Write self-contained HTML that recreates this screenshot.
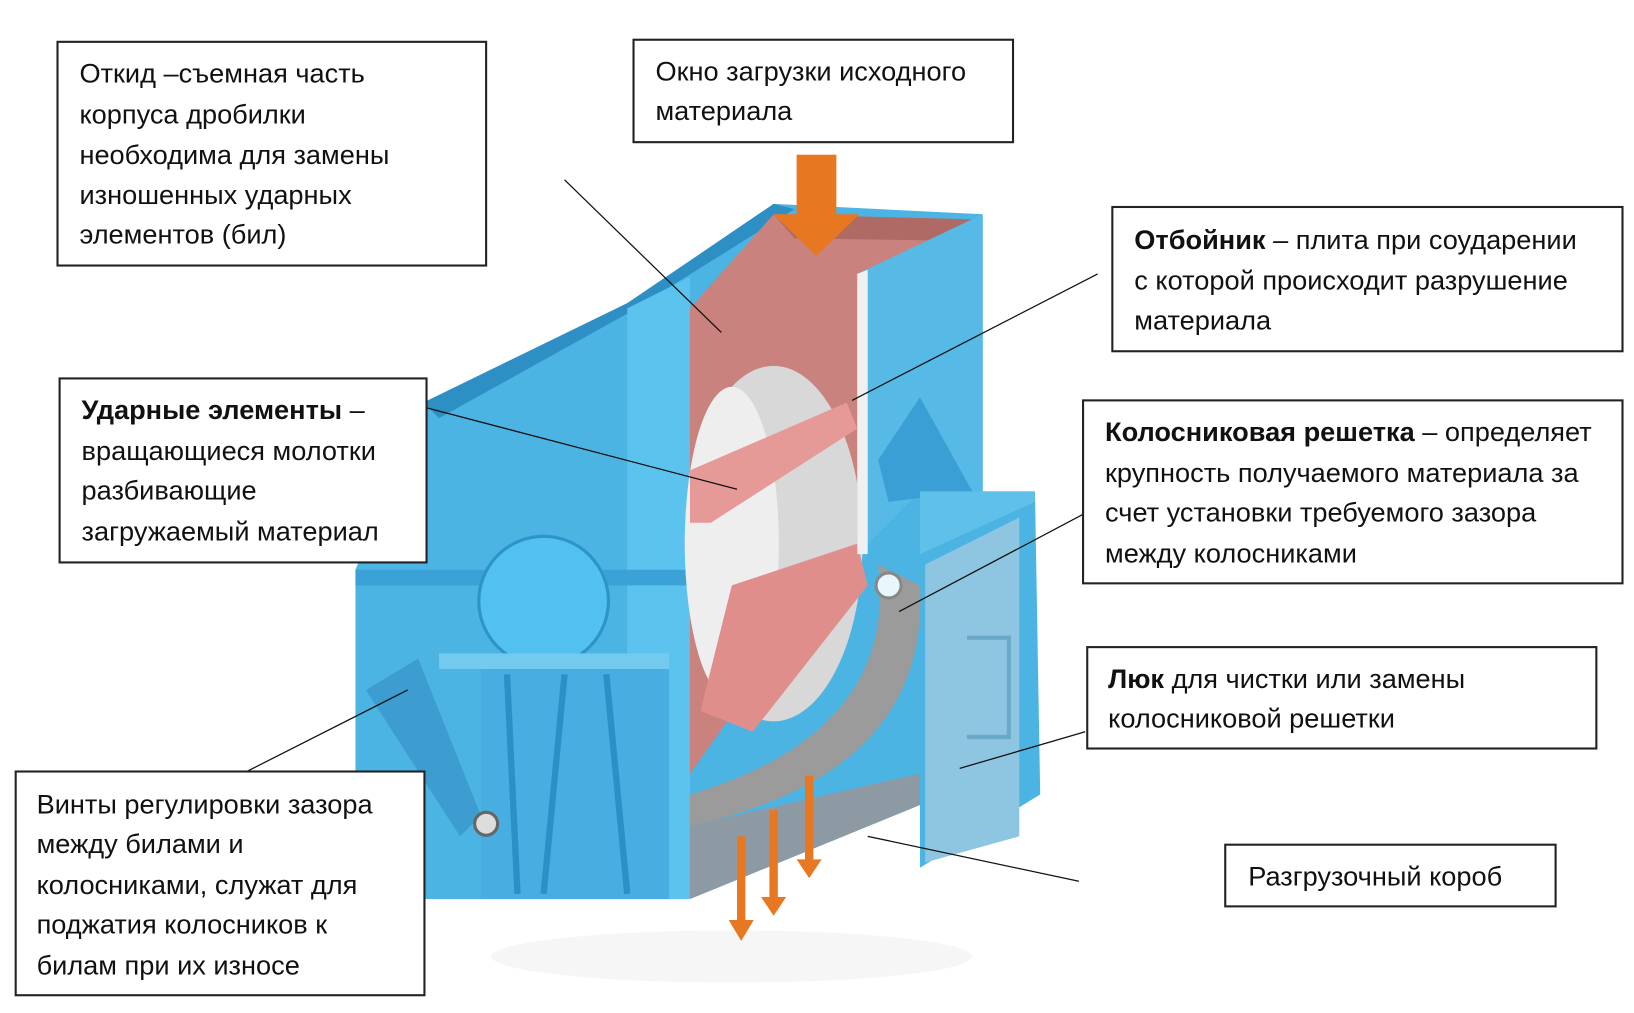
<!DOCTYPE html>
<html><head><meta charset="utf-8"><style>
html,body{margin:0;padding:0;background:#fff;width:1634px;height:1013px;overflow:hidden}
svg{display:block}
text{font-family:"Liberation Sans","DejaVu Sans",sans-serif;font-size:26px;fill:#111}
.b{font-weight:bold}
</style></head><body>
<svg width="1634" height="1013" viewBox="0 0 1563 969" preserveAspectRatio="none">
<ellipse cx="700" cy="915" rx="230" ry="25" fill="#f6f6f6"/>
<polygon points="340,545 405,390 600,290 700,225 740,195 940,205 940,470 990,470 995,760 880,830 880,770 660,860 340,860" fill="#4bb4e3"/>
<polygon points="405,385 600,290 740,195 760,200 600,300 420,400" fill="#2e8fc4"/>
<polygon points="600,295 660,265 660,860 600,860" fill="#5cc3ef"/>
<polygon points="340,545 660,545 660,560 340,560" fill="#3aa2d6"/>
<polygon points="660,295 740,205 935,210 820,270 820,560 760,600 660,740" fill="#c9827d"/>
<polygon points="740,205 935,210 900,230 760,228" fill="#b06a66"/>
<ellipse cx="740" cy="520" rx="85" ry="170" fill="#d8d8d8"/>
<ellipse cx="700" cy="520" rx="45" ry="150" fill="#eeeeee"/>
<polygon points="660,450 810,385 820,410 680,500 660,500" fill="#e69a98"/>
<polygon points="700,560 820,520 830,560 720,700 670,680" fill="#e08e8c"/>
<path d="M840,540 Q860,700 660,760 L660,790 Q890,740 880,560 Z" fill="#9b9b9b"/>
<path d="M660,790 L880,740 L880,770 L660,860 Z" fill="#8d9aa3"/>
<polygon points="820,262 940,205 940,470 880,470 820,530" fill="#56b9e6"/>
<polygon points="820,262 830,258 830,530 820,530" fill="#f0f0f0"/>
<polygon points="840,440 880,380 930,470 850,480" fill="#3a9fd4"/>
<polygon points="880,470 990,470 990,480 880,530" fill="#5fc0ea"/>
<polygon points="885,540 975,495 975,800 885,825" fill="#8ec6e2"/>
<path d="M925,610 L965,610 L965,705 L925,705" fill="none" stroke="#6aa9c8" stroke-width="4"/>
<circle cx="850" cy="560" r="12" fill="#e7f7fb" stroke="#888" stroke-width="3"/>
<circle cx="520" cy="575" r="62" fill="#52c1f0" stroke="#2e93c9" stroke-width="3"/>
<polygon points="420,625 640,625 640,640 420,640" fill="#74c9ee"/>
<polygon points="460,640 640,640 640,860 460,860" fill="#48ade0"/>
<line x1="485" y1="645" x2="495" y2="855" stroke="#2c8fc6" stroke-width="6"/>
<line x1="540" y1="645" x2="520" y2="855" stroke="#2c8fc6" stroke-width="6"/>
<line x1="580" y1="645" x2="600" y2="855" stroke="#2c8fc6" stroke-width="6"/>
<polygon points="350,660 400,630 460,780 440,800" fill="#3d9dd0"/>
<circle cx="465" cy="788" r="11" fill="#ddd" stroke="#666" stroke-width="3"/>
<g fill="#e87722">
<rect x="762" y="148" width="38" height="58"/><polygon points="740,205 822,205 781,245"/>
<rect x="705" y="800" width="8" height="85"/><polygon points="697,880 721,880 709,900"/>
<rect x="736" y="775" width="8" height="85"/><polygon points="728,858 752,858 740,876"/>
<rect x="770" y="742" width="8" height="83"/><polygon points="762,822 786,822 774,840"/>
</g>
<g stroke="#111" stroke-width="1.2">
<line x1="540" y1="172" x2="690" y2="318"/>
<line x1="1050" y1="262" x2="815" y2="383"/>
<line x1="400" y1="388" x2="705" y2="468"/>
<line x1="1036" y1="492" x2="860" y2="585"/>
<line x1="1038" y1="700" x2="918" y2="735"/>
<line x1="1032" y1="843" x2="830" y2="800"/>
<line x1="236" y1="738" x2="390" y2="660"/>
</g>
<g fill="#fff" stroke="#222" stroke-width="2">
<rect x="55" y="40" width="410" height="214"/>
<rect x="606" y="38" width="363" height="98"/>
<rect x="1064" y="198" width="488" height="138"/>
<rect x="57" y="362" width="351" height="176"/>
<rect x="1036" y="383" width="516" height="175"/>
<rect x="1040" y="619" width="487" height="97"/>
<rect x="15" y="738" width="391" height="214"/>
<rect x="1172" y="808" width="316" height="59"/>
</g>
<text x="76" y="79">Откид –съемная часть</text>
<text x="76" y="118">корпуса дробилки</text>
<text x="76" y="157">необходима для замены</text>
<text x="76" y="195">изношенных ударных</text>
<text x="76" y="233">элементов (бил)</text>
<text x="627" y="77">Окно загрузки исходного</text>
<text x="627" y="115">материала</text>
<text x="1085" y="238"><tspan class="b">Отбойник</tspan> – плита при соударении</text>
<text x="1085" y="277">с которой происходит разрушение</text>
<text x="1085" y="315">материала</text>
<text x="78" y="401"><tspan class="b">Ударные элементы</tspan> –</text>
<text x="78" y="440">вращающиеся молотки</text>
<text x="78" y="478">разбивающие</text>
<text x="78" y="517">загружаемый материал</text>
<text x="1057" y="422"><tspan class="b">Колосниковая решетка</tspan> – определяет</text>
<text x="1057" y="461">крупность получаемого материала за</text>
<text x="1057" y="499">счет установки требуемого зазора</text>
<text x="1057" y="538">между колосниками</text>
<text x="1060" y="658"><tspan class="b">Люк</tspan> для чистки или замены</text>
<text x="1060" y="696">колосниковой решетки</text>
<text x="35" y="778">Винты регулировки зазора</text>
<text x="35" y="816">между билами и</text>
<text x="35" y="855">колосниками, служат для</text>
<text x="35" y="893">поджатия колосников к</text>
<text x="35" y="932">билам при их износе</text>
<text x="1194" y="847">Разгрузочный короб</text>
</svg>
</body></html>
